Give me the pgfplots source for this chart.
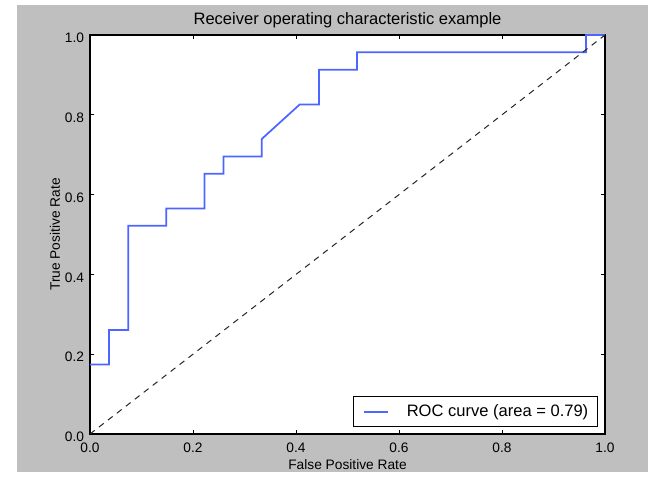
\documentclass[border=0pt]{standalone}
\usepackage{fontspec}
\setmainfont{Liberation Sans}
\usepackage{pgfplots}
\pgfplotsset{compat=1.18}
\definecolor{figbg}{RGB}{191,191,191}
\definecolor{rocblue}{RGB}{77,102,255}
\begin{document}
\begin{tikzpicture}[x=0.75pt,y=0.75pt]
\path[use as bounding box] (0,0) rectangle (648,477);
\fill[figbg] (17,5) rectangle (648,472);
\begin{axis}[
  at={(90*0.75pt,43*0.75pt)}, anchor=south west,
  scale only axis, width=515*0.75pt, height=399*0.75pt,
  xmin=0, xmax=1, ymin=0, ymax=1,
  axis background/.style={fill=white},
  axis line style={line width=0.8pt, black},
  xtick={0,0.2,0.4,0.6,0.8,1.0}, ytick={0,0.2,0.4,0.6,0.8,1.0},
  tick align=inside, major tick length=3pt,
  tick style={black, line width=0.5pt},
  /pgf/number format/assume math mode=true,
  /pgf/number format/.cd, fixed, fixed zerofill, precision=1, /pgfplots/.cd,
  ticklabel style={font=\fontsize{10.3pt}{12pt}\selectfont},
  xticklabel style={anchor=center, yshift=-10.5pt},
  yticklabel style={anchor=east, xshift=-1pt, yshift=-2.25pt},
  every axis title shift=0pt,
  title={Receiver operating characteristic example},
  title style={at={(axis description cs:0.5,1.0376)}, anchor=center, font=\fontsize{12.4pt}{14pt}\selectfont},
  xlabel={False Positive Rate},
  xlabel style={at={(axis description cs:0.5,-0.0777)}, anchor=center, font=\fontsize{10.3pt}{12pt}\selectfont},
  ylabel={True Positive Rate},
  ylabel style={at={(axis description cs:-0.068,0.5)}, anchor=center, font=\fontsize{10.3pt}{12pt}\selectfont},
  legend style={at={(1,0)}, anchor=south east, xshift=-5.25pt, yshift=5.25pt,
    draw=black, line width=0.6pt, fill=white, inner xsep=7pt, inner ysep=4pt,
    column sep=13.5pt,
    font=\fontsize{12.4pt}{14pt}\selectfont,
    nodes={inner xsep=0pt}},
  legend cell align=left,
  legend image code/.code={\draw[#1, line width=1.4pt] (0pt,0pt) -- (18pt,0pt);},
]
\addplot[rocblue, line width=1.3pt] coordinates {
(0,0.173913) (0.037037,0.173913) (0.037037,0.260870) (0.074074,0.260870)
(0.074074,0.521739) (0.148148,0.521739) (0.148148,0.565217) (0.222222,0.565217)
(0.222222,0.652174) (0.259259,0.652174) (0.259259,0.695652) (0.333333,0.695652)
(0.333333,0.739130) (0.407407,0.826087) (0.444444,0.826087) (0.444444,0.913043)
(0.518519,0.913043) (0.518519,0.956522) (0.962963,0.956522) (0.962963,1.0) (1,1)
};
\addlegendentry{ROC curve (area = 0.79)}
\addplot[black!85, line width=0.75pt, dash pattern=on 4.5pt off 4pt, forget plot] coordinates {(0,0) (1,1)};
\end{axis}
\end{tikzpicture}
\end{document}
